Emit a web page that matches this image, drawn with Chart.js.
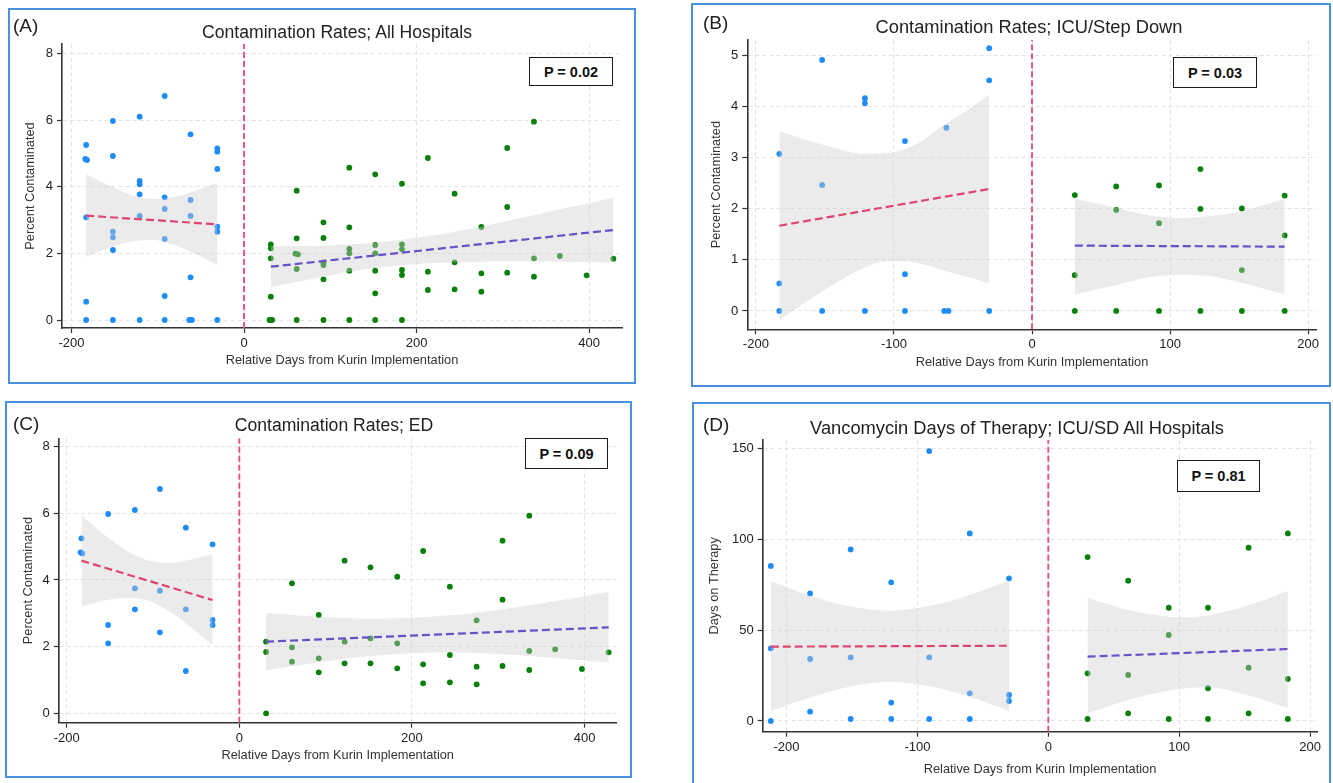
<!DOCTYPE html>
<html>
<head>
<meta charset="utf-8">
<title>Kurin implementation – contamination rates</title>
<script src="https://cdn.jsdelivr.net/npm/chart.js@4.4.1/dist/chart.umd.min.js"></script>
<style>
  body { margin: 0; background: #fff; font-family: 'Liberation Sans', Arial, sans-serif; }
  #page { position: relative; width: 1333px; height: 783px; overflow: hidden; }
  .panel { position: absolute; }
  .panel canvas { position: absolute; left: 0; top: 0; }
  .frame { position: absolute; left: 0; top: 0; right: 0; bottom: 0; border: 2px solid #4a93dc; pointer-events: none; }
  .tag { position: absolute; font-size: 19px; line-height: 1; color: #222; transform: translateY(-50%); }
  .title { position: absolute; line-height: 1; color: #222; white-space: nowrap; transform: translate(-50%, -50%); }
  .pbox { position: absolute; box-sizing: border-box; border: 1.5px solid #1c1c1c; background: #fff;
          display: flex; align-items: center; justify-content: center;
          font-weight: bold; font-size: 14.5px; color: #111; }
</style>
</head>
<body>
<div id="page">
  <div class="panel" style="left:8px;top:8px;width:628px;height:376px">
    <canvas id="chartA" width="628" height="376"></canvas>
    <div class="frame"></div>
    <div class="tag" style="left:5px;top:17px">(A)</div>
    <div class="title" style="left:329px;top:25px;font-size:17.6px">Contamination Rates; All Hospitals</div>
    <div class="pbox" style="left:521px;top:49px;width:84px;height:29px">P = 0.02</div>
  </div>
  <div class="panel" style="left:691px;top:3px;width:640px;height:384px">
    <canvas id="chartB" width="640" height="384"></canvas>
    <div class="frame"></div>
    <div class="tag" style="left:12px;top:19px">(B)</div>
    <div class="title" style="left:338px;top:24px;font-size:18.3px">Contamination Rates; ICU/Step Down</div>
    <div class="pbox" style="left:482px;top:54px;width:84px;height:31px">P = 0.03</div>
  </div>
  <div class="panel" style="left:5px;top:401px;width:627px;height:377px">
    <canvas id="chartC" width="627" height="377"></canvas>
    <div class="frame"></div>
    <div class="tag" style="left:8px;top:22px">(C)</div>
    <div class="title" style="left:329px;top:25px;font-size:17.6px">Contamination Rates; ED</div>
    <div class="pbox" style="left:520px;top:37px;width:83px;height:31px">P = 0.09</div>
  </div>
  <div class="panel" style="left:692px;top:402px;width:639px;height:384px">
    <canvas id="chartD" width="639" height="384"></canvas>
    <div class="frame"></div>
    <div class="tag" style="left:11px;top:22px">(D)</div>
    <div class="title" style="left:325px;top:26px;font-size:18.3px">Vancomycin Days of Therapy; ICU/SD All Hospitals</div>
    <div class="pbox" style="left:485px;top:58px;width:83px;height:32px">P = 0.81</div>
  </div>
</div>

<script>
// ---- (A) all hospitals, percent contaminated ----
const allPreDays = [-184, -182, -183, -183, -183, -183,
  -152, -152, -152, -152, -152, -152,
  -121, -121, -121, -121, -121, -121,
  -92, -92, -92, -92, -92, -92,
  -62, -62, -62, -62, -63.5, -60.5,
  -31, -31, -31, -31, -31, -31];
const allPreRates = [4.83, 4.80, 5.25, 3.08, 0.55, 0,
  5.97, 4.92, 2.65, 2.48, 2.10, 0,
  6.10, 4.17, 4.07, 3.77, 3.12, 0,
  6.72, 3.68, 3.33, 2.43, 0.72, 0,
  5.57, 3.60, 3.12, 1.28, 0, 0,
  5.15, 5.05, 4.53, 2.80, 2.65, 0];
const allPostDays = [31, 31, 31, 31, 29.5, 32.5,
  61, 61, 59.5, 62.5, 61, 61,
  92, 92, 92, 92, 92, 92,
  122, 122, 122, 122, 122, 122,
  152, 152, 152, 152, 152, 152,
  183, 183, 183, 183, 183, 183,
  213, 213, 213, 244, 244, 244, 275, 275, 275, 305, 305, 305, 336, 336, 336,
  366, 397, 428];
const allPostRates = [2.27, 2.15, 1.85, 0.70, 0, 0,
  3.88, 2.45, 1.99, 1.97, 1.53, 0,
  2.93, 2.46, 1.73, 1.65, 1.22, 0,
  4.57, 2.78, 2.13, 2.00, 1.48, 0,
  4.37, 2.25, 2.00, 1.48, 0.80, 0,
  4.09, 2.27, 2.12, 1.50, 1.35, 0,
  4.86, 1.45, 0.90, 3.79, 1.73, 0.92, 2.79, 1.40, 0.85, 5.16, 3.39, 1.42, 5.95, 1.85, 1.30,
  1.92, 1.34, 1.84];
const allFitPreDays = [-183, -31];
const allFitPre = [3.13, 2.87];
const allFitPostDays = [31, 428];
const allFitPost = [1.60, 2.70];
const allBandPreDays = [-183, -160, -135, -108, -80, -55, -31];
const allBandPreLow = [1.90, 2.13, 2.33, 2.41, 2.24, 1.96, 1.65];
const allBandPreHigh = [4.38, 4.07, 3.79, 3.63, 3.69, 3.89, 4.12];
const allBandPostDays = [31, 61, 92, 122, 152, 183, 213, 244, 275, 305, 336, 366, 397, 428];
const allBandPostLow = [0.98, 1.15, 1.30, 1.45, 1.56, 1.64, 1.70, 1.73, 1.75, 1.76, 1.76, 1.75, 1.74, 1.72];
const allBandPostHigh = [2.21, 2.22, 2.23, 2.27, 2.32, 2.41, 2.51, 2.65, 2.80, 2.97, 3.14, 3.32, 3.49, 3.67];

// ---- (B) ICU / step down ----
const icuPreDays = [-183, -183, -183, -152, -152, -152, -121, -121, -121,
  -92, -92, -92, -62, -63.5, -60.5, -31, -31, -31];
const icuPreRates = [3.08, 0.54, 0, 4.92, 2.47, 0, 4.17, 4.07, 0,
  3.33, 0.72, 0, 3.59, 0, 0, 5.15, 4.52, 0];
const icuPostDays = [31, 31, 31, 61, 61, 61, 92, 92, 92, 122, 122, 122, 152, 152, 152, 183, 183, 183];
const icuPostRates = [2.27, 0.70, 0, 2.44, 1.98, 0, 2.46, 1.72, 0, 2.78, 2.00, 0, 2.01, 0.80, 0, 2.26, 1.48, 0];
const icuFitPreDays = [-183, -31];
const icuFitPre = [1.67, 2.39];
const icuFitPostDays = [31, 183];
const icuFitPost = [1.28, 1.26];
const icuBandPreDays = [-183, -152, -121, -103, -85, -62, -46, -31];
const icuBandPreLow = [-0.18, 0.38, 0.85, 0.98, 0.95, 0.78, 0.66, 0.54];
const icuBandPreHigh = [3.52, 3.26, 3.08, 3.10, 3.25, 3.68, 3.95, 4.24];
const icuBandPostDays = [31, 61, 85, 107, 130, 152, 183];
const icuBandPostLow = [0.32, 0.51, 0.66, 0.71, 0.68, 0.55, 0.32];
const icuBandPostHigh = [2.20, 2.02, 1.87, 1.82, 1.86, 1.96, 2.20];

// ---- (C) ED ----
const edPreDays = [-183, -184, -182, -152, -152, -152, -121, -121, -121,
  -92, -92, -92, -62, -62, -62, -31, -31, -31];
const edPreRates = [5.25, 4.83, 4.80, 5.98, 2.65, 2.10, 6.10, 3.75, 3.12,
  6.73, 3.68, 2.43, 5.57, 3.12, 1.27, 5.07, 2.80, 2.65];
const edPostDays = [31, 31, 31, 61, 61, 61, 92, 92, 92, 122, 122, 122, 152, 152, 152,
  183, 183, 183, 213, 213, 213, 244, 244, 244, 275, 275, 275, 305, 305, 305,
  336, 336, 336, 366, 397, 428];
const edPostRates = [2.15, 1.84, 0, 3.90, 1.98, 1.55, 2.95, 1.65, 1.23, 4.58, 2.15, 1.50, 4.38, 2.25, 1.50,
  4.10, 2.10, 1.35, 4.87, 1.47, 0.90, 3.80, 1.75, 0.93, 2.79, 1.40, 0.87, 5.18, 3.41, 1.42,
  5.93, 1.87, 1.30, 1.92, 1.33, 1.83];
const edFitPreDays = [-183, -31];
const edFitPre = [4.58, 3.40];
const edFitPostDays = [31, 428];
const edFitPost = [2.15, 2.58];
const edBandPreDays = [-183, -160, -135, -107, -80, -55, -31];
const edBandPreLow = [3.20, 3.36, 3.46, 3.39, 3.04, 2.56, 2.05];
const edBandPreHigh = [5.95, 5.43, 4.95, 4.59, 4.52, 4.62, 4.78];
const edBandPostDays = [31, 61, 92, 122, 152, 183, 213, 244, 275, 305, 336, 366, 397, 428];
const edBandPostLow = [1.29, 1.41, 1.53, 1.64, 1.72, 1.78, 1.82, 1.83, 1.81, 1.77, 1.72, 1.66, 1.59, 1.52];
const edBandPostHigh = [3.02, 2.95, 2.90, 2.86, 2.84, 2.85, 2.88, 2.94, 3.02, 3.12, 3.24, 3.37, 3.50, 3.64];

// ---- (D) vancomycin days of therapy, ICU/SD ----
const vancoPreDays = [-212, -212, -212, -182, -182, -182, -151, -151, -151, -120, -120, -120,
  -91, -91, -91, -60, -60, -60, -30, -30, -30];
const vancoPreDot = [85.3, 40.0, 0, 70.2, 34.1, 5.1, 94.4, 35.0, 1.1, 76.3, 10.1, 1.1,
  148.5, 35.0, 1.1, 103.2, 15.2, 1.1, 78.5, 14.3, 11.0];
const vancoPostDays = [30, 30, 30, 61, 61, 61, 92, 92, 92, 122, 122, 122, 153, 153, 153, 183, 183, 183];
const vancoPostDot = [90.2, 26.2, 1.1, 77.2, 25.3, 4.2, 62.3, 47.3, 1.1, 62.3, 18.0, 1.1, 95.3, 29.3, 4.2, 103.2, 23.1, 1.1];
const vancoFitPreDays = [-212, -30];
const vancoFitPre = [40.9, 41.4];
const vancoFitPostDays = [30, 183];
const vancoFitPost = [35.4, 39.6];
const vancoBandPreDays = [-212, -182, -152, -121, -91, -61, -30];
const vancoBandPreLow = [5.5, 12.9, 18.9, 21.5, 19.2, 13.4, 5.6];
const vancoBandPreHigh = [77.0, 68.9, 63.1, 60.7, 63.2, 69.1, 77.2];
const vancoBandPostDays = [30, 61, 92, 107, 122, 153, 183];
const vancoBandPostLow = [4.2, 11.5, 16.8, 18.2, 18.4, 14.0, 7.0];
const vancoBandPostHigh = [67.8, 61.0, 57.4, 57.0, 58.2, 63.6, 71.5];

// ticks
const dayTicksLong = [-200, 0, 200, 400];
const dayTicksShort = [-200, -100, 0, 100, 200];
const rateTicks8 = [0, 2, 4, 6, 8];
const rateTicks5 = [0, 1, 2, 3, 4, 5];
const dotTicks = [0, 50, 100, 150];

const kurinStartDay = 0;

const preColor = '#1e8cf8';
const postColor = '#078007';
const preFitColor = '#e0456f';
const postFitColor = '#6a4fc9';
const cutColor = '#e2547c';
const bandColor = 'rgba(205, 205, 205, 0.40)';

Chart.defaults.font.family = "'Liberation Sans', Arial, sans-serif";
Chart.defaults.color = '#222';

function pts(xs, ys) {
  return xs.map((x, i) => ({ x: x, y: ys[i] }));
}

function bandLine(label, days, vals, fill) {
  return {
    type: 'line', label: label, data: pts(days, vals),
    borderColor: 'transparent', borderWidth: 0, pointRadius: 0, pointHoverRadius: 0,
    cubicInterpolationMode: 'monotone',
    fill: fill, backgroundColor: bandColor, order: 2,
  };
}

function fitLine(label, days, vals, color) {
  return {
    type: 'line', label: label, data: pts(days, vals),
    borderColor: color, borderWidth: 2.2, borderDash: [8, 4],
    pointRadius: 0, pointHoverRadius: 0, fill: false, order: 1,
  };
}

function makePanel(id, p) {
  let ctx = document.getElementById(id).getContext('2d');

  let datasets = [
    { label: 'Pre-Kurin', data: pts(p.preDays, p.preVals), backgroundColor: preColor,
      pointRadius: 2.9, pointBorderWidth: 0, order: 4 },
    { label: 'Post-Kurin', data: pts(p.postDays, p.postVals), backgroundColor: postColor,
      pointRadius: 2.9, pointBorderWidth: 0, order: 4 },
    bandLine('Pre CI low', p.preBand[0], p.preBand[1], false),
    bandLine('Pre CI high', p.preBand[0], p.preBand[2], '-1'),
    bandLine('Post CI low', p.postBand[0], p.postBand[1], false),
    bandLine('Post CI high', p.postBand[0], p.postBand[2], '-1'),
    fitLine('Pre fit', p.preFit[0], p.preFit[1], preFitColor),
    fitLine('Post fit', p.postFit[0], p.postFit[1], postFitColor),
    { type: 'line', label: 'Kurin implementation',
      data: [{ x: kurinStartDay, y: p.yMin }, { x: kurinStartDay, y: p.yMax }],
      borderColor: cutColor, borderWidth: 1.9, borderDash: [6, 3],
      pointRadius: 0, pointHoverRadius: 0, fill: false, order: 0 },
  ];

  let grid = { color: '#e3e3e3', lineWidth: 1, tickLength: 5, tickColor: '#333', tickWidth: 1.2, tickBorderDash: [] };
  let border = { color: '#333', width: 1.6, dash: [4, 3] };

  new Chart(ctx, {
    type: 'scatter',
    data: { datasets: datasets },
    options: {
      responsive: false,
      animation: false,
      layout: { padding: { left: 0, top: p.top, right: p.right, bottom: 0 } },
      plugins: { legend: { display: false } },
      scales: {
        x: {
          type: 'linear', position: 'bottom', min: p.xMin, max: p.xMax,
          afterBuildTicks: (s) => { s.ticks = p.xTicks.map((v) => ({ value: v })); },
          afterFit: (s) => { s.height = p.xAxisH; },
          ticks: { font: { size: 13 }, color: '#222', padding: 2.5, maxRotation: 0 },
          grid: grid,
          border: border,
          title: { display: true, text: 'Relative Days from Kurin Implementation',
                   font: { size: 12.8 }, color: '#333', padding: { top: 0, bottom: p.xTitlePad } },
        },
        y: {
          type: 'linear', position: 'left', min: p.yMin, max: p.yMax,
          afterBuildTicks: (s) => { s.ticks = p.yTicks.map((v) => ({ value: v })); },
          afterFit: (s) => { s.width = p.yAxisW; },
          ticks: { font: { size: 13 }, color: '#222', padding: 4 },
          grid: grid,
          border: border,
          title: { display: true, text: p.yTitle,
                   font: { size: 12.8 }, color: '#333', padding: { top: p.yTitlePad, bottom: 0 } },
        },
      },
    },
  });
}

makePanel('chartA', {
  preDays: allPreDays, preVals: allPreRates, postDays: allPostDays, postVals: allPostRates,
  preFit: [allFitPreDays, allFitPre], postFit: [allFitPostDays, allFitPost],
  preBand: [allBandPreDays, allBandPreLow, allBandPreHigh],
  postBand: [allBandPostDays, allBandPostLow, allBandPostHigh],
  xMin: -211, xMax: 438, yMin: -0.24, yMax: 8.28, xTicks: dayTicksLong, yTicks: rateTicks8,
  yTitle: 'Percent Contaminated',
  top: 36, right: 14, yAxisW: 54, xAxisH: 56, yTitlePad: 15, xTitlePad: 16.3,
});

makePanel('chartB', {
  preDays: icuPreDays, preVals: icuPreRates, postDays: icuPostDays, postVals: icuPostRates,
  preFit: [icuFitPreDays, icuFitPre], postFit: [icuFitPostDays, icuFitPost],
  preBand: [icuBandPreDays, icuBandPreLow, icuBandPreHigh],
  postBand: [icuBandPostDays, icuBandPostLow, icuBandPostHigh],
  xMin: -206.2, xMax: 206.2, yMin: -0.36, yMax: 5.31, xTicks: dayTicksShort, yTicks: rateTicks5,
  yTitle: 'Percent Contaminated',
  top: 37, right: 14.3, yAxisW: 56.3, xAxisH: 57.7, yTitlePad: 17.6, xTitlePad: 16.8,
});

makePanel('chartC', {
  preDays: edPreDays, preVals: edPreRates, postDays: edPostDays, postVals: edPostRates,
  preFit: [edFitPreDays, edFitPre], postFit: [edFitPostDays, edFitPost],
  preBand: [edBandPreDays, edBandPreLow, edBandPreHigh],
  postBand: [edBandPostDays, edBandPostLow, edBandPostHigh],
  xMin: -209.3, xMax: 437.3, yMin: -0.28, yMax: 8.25, xTicks: dayTicksLong, yTicks: rateTicks8,
  yTitle: 'Percent Contaminated',
  top: 37.3, right: 15.3, yAxisW: 53.7, xAxisH: 55.3, yTitlePad: 15.3, xTitlePad: 15.3,
});

makePanel('chartD', {
  preDays: vancoPreDays, preVals: vancoPreDot, postDays: vancoPostDays, postVals: vancoPostDot,
  preFit: [vancoFitPreDays, vancoFitPre], postFit: [vancoFitPostDays, vancoFitPost],
  preBand: [vancoBandPreDays, vancoBandPreLow, vancoBandPreHigh],
  postBand: [vancoBandPostDays, vancoBandPostLow, vancoBandPostHigh],
  xMin: -218.2, xMax: 205.5, yMin: -5.9, yMax: 154.6, xTicks: dayTicksShort, yTicks: dotTicks,
  yTitle: 'Days on Therapy',
  top: 38, right: 13.7, yAxisW: 70.7, xAxisH: 54.3, yTitlePad: 14.3, xTitlePad: 9.3,
});
</script>
</body>
</html>
